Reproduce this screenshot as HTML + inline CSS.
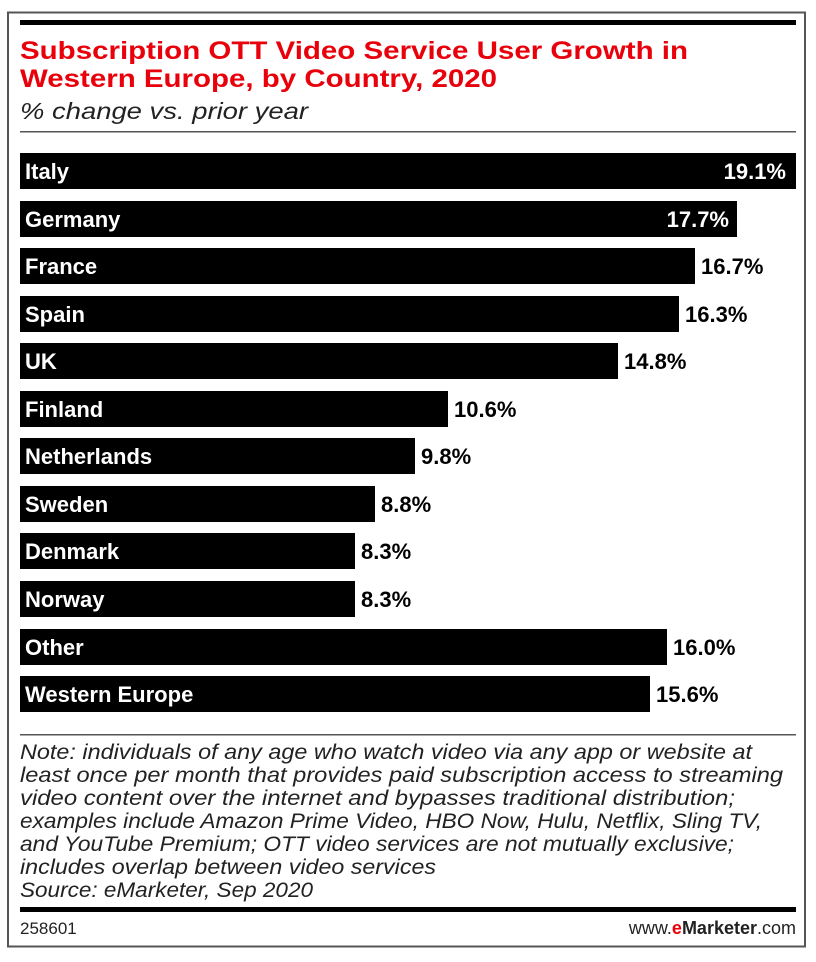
<!DOCTYPE html>
<html><head><meta charset="utf-8"><style>
html,body{margin:0;padding:0;background:#fff;width:816px;height:962px;overflow:hidden}
svg text{font-family:"Liberation Sans",sans-serif}
</style></head><body>
<svg width="816" height="962" viewBox="0 0 816 962" xmlns="http://www.w3.org/2000/svg">
<rect x="8" y="12.5" width="797" height="934" fill="#fff" stroke="#555" stroke-width="2"/>
<rect x="20" y="20" width="776" height="5" fill="#000"/>
<g font-weight="bold" fill="#e8000b" font-size="25">
<text x="20" y="59" textLength="668" lengthAdjust="spacingAndGlyphs">Subscription OTT Video Service User Growth in</text>
<text x="20" y="87" textLength="477" lengthAdjust="spacingAndGlyphs">Western Europe, by Country, 2020</text>
</g>
<text x="20" y="119" font-size="23" font-style="italic" fill="#222" textLength="288" lengthAdjust="spacingAndGlyphs">% change vs. prior year</text>
<rect x="20" y="131" width="776" height="1.5" fill="#555"/>
<g fill="#000">
<rect x="20" y="153" width="776" height="36"/>
<rect x="20" y="201" width="717" height="36"/>
<rect x="20" y="248" width="675" height="36"/>
<rect x="20" y="296" width="659" height="36"/>
<rect x="20" y="343" width="598" height="36"/>
<rect x="20" y="391" width="428" height="36"/>
<rect x="20" y="438" width="395" height="36"/>
<rect x="20" y="486" width="355" height="36"/>
<rect x="20" y="533" width="335" height="36"/>
<rect x="20" y="581" width="335" height="36"/>
<rect x="20" y="629" width="647" height="36"/>
<rect x="20" y="676" width="630" height="36"/>
</g>
<g font-weight="bold" font-size="22" fill="#fff">
<text x="25" y="179">Italy</text>
<text x="25" y="227">Germany</text>
<text x="25" y="274">France</text>
<text x="25" y="322">Spain</text>
<text x="25" y="369">UK</text>
<text x="25" y="417">Finland</text>
<text x="25" y="464">Netherlands</text>
<text x="25" y="512">Sweden</text>
<text x="25" y="559">Denmark</text>
<text x="25" y="607">Norway</text>
<text x="25" y="655">Other</text>
<text x="25" y="702">Western Europe</text>
<text x="786" y="179" text-anchor="end">19.1%</text>
<text x="729" y="227" text-anchor="end">17.7%</text>
</g>
<g font-weight="bold" font-size="22" fill="#000">
<text x="701" y="274">16.7%</text>
<text x="685" y="322">16.3%</text>
<text x="624" y="369">14.8%</text>
<text x="454" y="417">10.6%</text>
<text x="421" y="464">9.8%</text>
<text x="381" y="512">8.8%</text>
<text x="361" y="559">8.3%</text>
<text x="361" y="607">8.3%</text>
<text x="673" y="655">16.0%</text>
<text x="656" y="702">15.6%</text>
</g>
<rect x="20" y="734" width="776" height="1.5" fill="#555"/>
<g font-size="21.5" font-style="italic" fill="#222">
<text x="20" y="759" textLength="732" lengthAdjust="spacingAndGlyphs">Note: individuals of any age who watch video via any app or website at</text>
<text x="20" y="782" textLength="763" lengthAdjust="spacingAndGlyphs">least once per month that provides paid subscription access to streaming</text>
<text x="20" y="805" textLength="715" lengthAdjust="spacingAndGlyphs">video content over the internet and bypasses traditional distribution;</text>
<text x="20" y="828" textLength="742" lengthAdjust="spacingAndGlyphs">examples include Amazon Prime Video, HBO Now, Hulu, Netflix, Sling TV,</text>
<text x="20" y="851" textLength="714" lengthAdjust="spacingAndGlyphs">and YouTube Premium; OTT video services are not mutually exclusive;</text>
<text x="20" y="874" textLength="416" lengthAdjust="spacingAndGlyphs">includes overlap between video services</text>
<text x="20" y="897" textLength="293" lengthAdjust="spacingAndGlyphs">Source: eMarketer, Sep 2020</text>
</g>
<rect x="20" y="907" width="776" height="5" fill="#000"/>
<text x="20" y="934" font-size="17" fill="#222">258601</text>
<text x="796" y="934" font-size="18" fill="#222" text-anchor="end">www.<tspan fill="#e8000b" font-weight="bold">e</tspan><tspan font-weight="bold">Marketer</tspan>.com</text>
</svg>
</body></html>
